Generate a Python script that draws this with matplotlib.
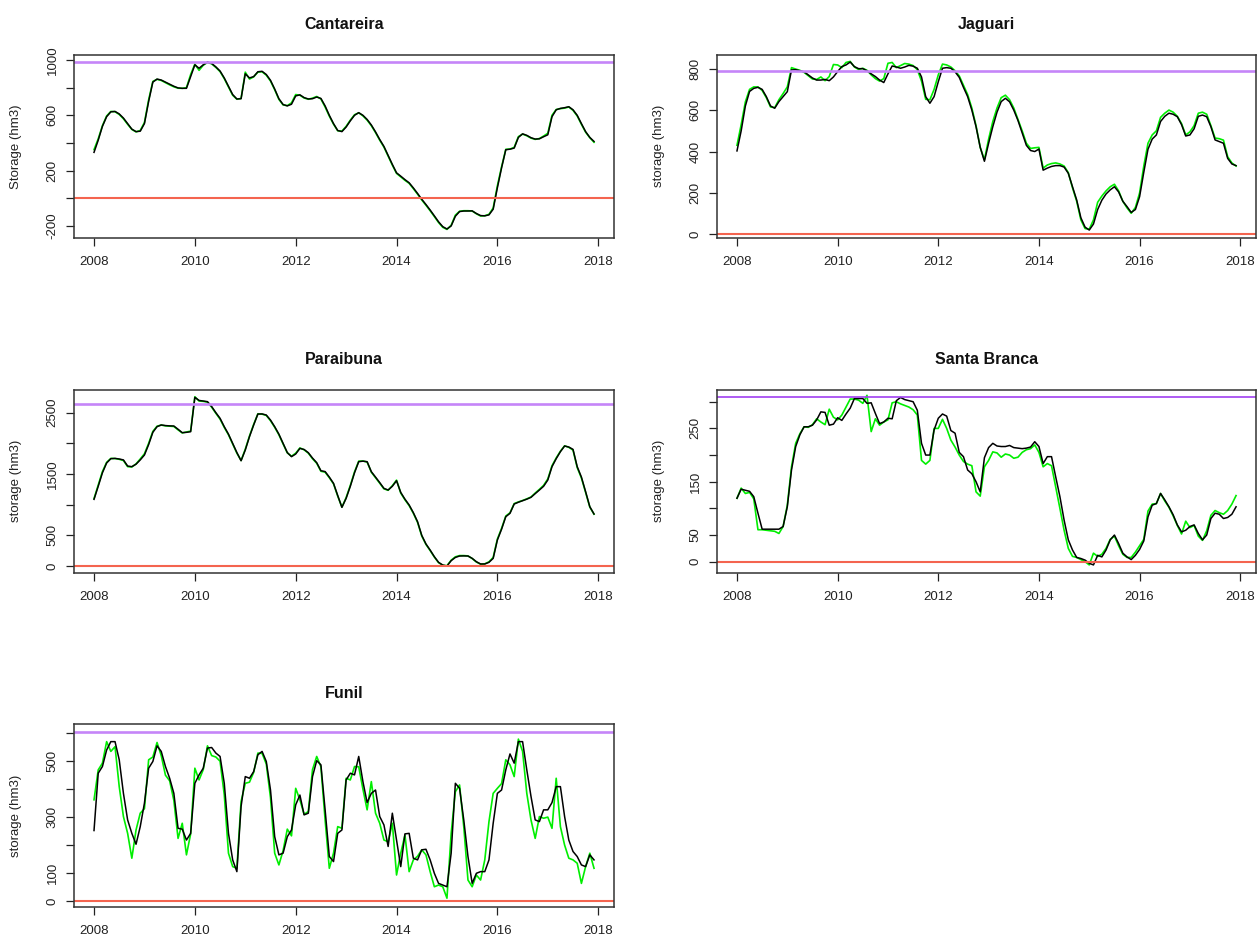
import numpy as np
import matplotlib
matplotlib.use("Agg")
import matplotlib.pyplot as plt

plt.rcParams['font.family'] = ['Liberation Sans', 'DejaVu Sans']

# monthly time axis, Jan 2008 .. Dec 2017
years = 2008 + np.arange(120) / 12.0

reservoirs = ["Cantareira", "Jaguari", "Paraibuna", "Santa Branca", "Funil"]
ylabels = ["Storage (hm3)", "storage (hm3)", "storage (hm3)", "storage (hm3)", "storage (hm3)"]

# observed (black) and simulated (green) storage, hm3
cant_obs = [332, 420, 520, 590, 625, 628, 610, 580, 540, 500, 482, 485,
            540, 700, 840, 862, 855, 840, 825, 810, 798, 795, 795, 880,
            965, 940, 965, 985, 975, 950, 920, 870, 810, 750, 718, 720,
            900, 870, 880, 915, 918, 895, 853, 790, 720, 678, 668, 680,
            740, 748, 728, 718, 720, 732, 722, 668, 600, 540, 490, 482,
            515, 560, 600, 619, 600, 570, 530, 480, 425, 375, 310, 245,
            184, 160, 135, 112, 75, 35, -7, -45, -85, -127, -170, -205,
            -222, -200, -130, -96, -92, -92, -91, -110, -125, -127, -120, -79,
            76, 220, 351, 355, 363, 440, 466, 455, 438, 428, 430, 445,
            459, 590, 640, 650, 655, 662, 640, 600, 540, 482, 440, 411]
cant_sim = [352, 430, 525, 595, 628, 626, 606, 575, 535, 498, 480, 490,
            548, 712, 845, 860, 852, 836, 820, 806, 796, 795, 800, 895,
            970, 925, 962, 982, 972, 946, 916, 865, 805, 745, 716, 722,
            912, 862, 878, 912, 915, 890, 848, 785, 715, 675, 670, 690,
            750, 745, 725, 716, 724, 736, 718, 660, 594, 536, 488, 486,
            520, 565, 604, 618, 596, 565, 525, 475, 420, 370, 305, 240,
            180, 155, 130, 108, 70, 30, -12, -50, -90, -132, -175, -210,
            -225, -195, -122, -94, -90, -90, -92, -112, -128, -126, -116, -70,
            90, 228, 354, 356, 368, 446, 464, 452, 435, 426, 432, 450,
            470, 600, 642, 648, 652, 660, 636, 595, 535, 478, 438, 405]

jag_obs = [403, 500, 620, 690, 705, 710, 700, 665, 620, 609, 641, 665,
           689, 794, 795, 790, 785, 770, 755, 745, 745, 748, 742, 760,
           786, 810, 818, 832, 810, 800, 800, 790, 775, 762, 745, 733,
           775, 813, 808, 802, 808, 816, 812, 802, 760, 665, 633, 665,
           737, 802, 805, 802, 785, 758, 710, 665, 600, 520, 420, 353,
           440, 520, 590, 641, 657, 640, 600, 550, 490, 430, 405, 400,
           412, 310, 320, 328, 332, 332, 325, 295, 230, 166, 80, 35,
           21, 50, 120, 165, 195, 215, 230, 205, 160, 134, 106, 120,
           182, 300, 411, 460, 480, 545, 570, 585, 580, 568, 530, 475,
           480, 510, 570, 576, 568, 520, 456, 448, 440, 367, 340, 332]
jag_sim = [430, 530, 640, 700, 712, 712, 695, 660, 615, 612, 650, 680,
           712, 805, 798, 792, 782, 766, 750, 748, 760, 742, 762, 820,
           818, 805, 830, 835, 808, 796, 802, 792, 770, 752, 740, 752,
           826, 830, 805, 815, 825, 822, 815, 795, 740, 652, 650, 700,
           770, 822, 818, 808, 790, 765, 720, 675, 610, 525, 420, 360,
           460, 545, 610, 660, 672, 650, 610, 555, 500, 440, 415, 418,
           420, 320, 335, 342, 345, 340, 330, 298, 225, 160, 70, 28,
           25, 70, 155, 185, 210, 230, 242, 210, 160, 128, 102, 130,
           200, 330, 440, 480, 500, 565, 585, 600, 590, 570, 535, 480,
           495, 525, 585, 590, 580, 525, 465, 462, 455, 375, 345, 330]

para_obs = [1087, 1300, 1520, 1680, 1750, 1755, 1745, 1730, 1630, 1620, 1660, 1730,
            1810, 1980, 2180, 2272, 2300, 2290, 2285, 2283, 2230, 2174, 2180, 2190,
            2750, 2700, 2690, 2680, 2600, 2500, 2408, 2272, 2150, 2000, 1850, 1717,
            1891, 2109, 2300, 2478, 2480, 2462, 2380, 2272, 2150, 2000, 1850, 1783,
            1826, 1918, 1900, 1848, 1760, 1685, 1554, 1540, 1450, 1348, 1150, 957,
            1103, 1300, 1520, 1701, 1710, 1701, 1538, 1450, 1360, 1266, 1239, 1300,
            1391, 1200, 1090, 995, 870, 723, 500, 360, 260, 152, 60, 16,
            0, 87, 140, 163, 165, 163, 125, 70, 33, 33, 60, 125,
            424, 600, 804, 859, 1011, 1040, 1065, 1090, 1120, 1180, 1239, 1300,
            1402, 1620, 1750, 1864, 1957, 1940, 1902, 1620, 1450, 1212, 967, 848]
para_sim = [1100, 1320, 1540, 1690, 1755, 1752, 1740, 1720, 1620, 1615, 1665, 1745,
            1830, 2000, 2195, 2280, 2298, 2285, 2280, 2275, 2220, 2170, 2185, 2200,
            2760, 2690, 2685, 2672, 2590, 2490, 2395, 2260, 2140, 1990, 1840, 1720,
            1905, 2120, 2310, 2482, 2476, 2455, 2370, 2262, 2140, 1990, 1845, 1790,
            1840, 1925, 1895, 1840, 1750, 1675, 1545, 1530, 1440, 1340, 1140, 960,
            1115, 1315, 1535, 1710, 1712, 1695, 1530, 1440, 1350, 1258, 1235, 1310,
            1400, 1190, 1080, 985, 860, 712, 490, 352, 252, 146, 55, 12,
            5, 95, 150, 170, 170, 165, 122, 65, 30, 36, 68, 140,
            440, 615, 815, 868, 1018, 1045, 1068, 1095, 1125, 1190, 1250, 1315,
            1420, 1635, 1762, 1872, 1960, 1935, 1890, 1605, 1435, 1200, 960, 845]

sb_obs = [119, 136, 134, 132, 122, 91, 61, 61, 61, 61, 61, 66,
          103, 172, 216, 238, 253, 253, 256, 266, 281, 280, 256, 258,
          270, 265, 277, 288, 306, 306, 306, 297, 298, 278, 259, 262,
          269, 268, 302, 308, 304, 302, 300, 284, 222, 200, 200, 247,
          269, 277, 273, 246, 241, 205, 197, 172, 165, 150, 131, 195,
          214, 222, 217, 216, 216, 218, 214, 213, 212, 213, 215, 225,
          216, 184, 197, 197, 159, 122, 78, 41, 22, 8, 6, 3,
          -3, -6, 12, 9, 22, 41, 50, 34, 16, 9, 4, 12,
          23, 39, 84, 106, 109, 128, 116, 103, 88, 69, 56, 59,
          66, 69, 53, 41, 50, 81, 91, 89, 81, 83, 89, 103]
sb_sim = [119, 138, 128, 130, 118, 60, 60, 59, 58, 57, 53, 66,
          106, 178, 222, 240, 253, 252, 257, 268, 262, 257, 286, 271,
          266, 275, 290, 305, 305, 303, 297, 312, 244, 268, 256, 262,
          266, 298, 300, 296, 293, 290, 285, 275, 190, 183, 190, 250,
          250, 267, 250, 228, 215, 200, 188, 183, 180, 131, 123, 178,
          190, 206, 204, 196, 202, 200, 194, 196, 205, 210, 212, 219,
          205, 178, 184, 180, 140, 100, 59, 25, 10, 8, 4, 0,
          -6, 16, 10, 14, 25, 42, 48, 30, 14, 8, 8, 18,
          30, 42, 95, 108, 109, 128, 114, 102, 86, 68, 52, 76,
          64, 68, 48, 40, 58, 87, 96, 92, 89, 96, 108, 124]

fun_obs = [252, 457, 481, 540, 570, 570, 505, 385, 290, 242, 203, 266,
           350, 475, 499, 555, 535, 481, 439, 385, 260, 257, 218, 242,
           421, 451, 475, 547, 549, 529, 517, 421, 242, 147, 105, 338,
           445, 439, 463, 523, 535, 499, 397, 230, 165, 171, 230, 254,
           344, 379, 308, 314, 445, 502, 487, 326, 159, 141, 242, 254,
           433, 457, 451, 517, 427, 352, 385, 397, 302, 272, 195, 314,
           218, 123, 240, 242, 153, 147, 183, 185, 147, 99, 63, 57,
           51, 171, 421, 403, 290, 159, 63, 99, 105, 105, 147, 278,
           385, 397, 469, 526, 493, 570, 570, 469, 374, 290, 284, 326,
           326, 352, 409, 409, 302, 218, 177, 159, 129, 123, 165, 147]
fun_sim = [362, 469, 493, 570, 535, 552, 409, 302, 242, 153, 254, 314,
           330, 505, 515, 567, 520, 450, 430, 360, 224, 278, 165, 240,
           475, 433, 470, 555, 520, 515, 500, 380, 171, 123, 117, 356,
           421, 425, 460, 529, 528, 490, 370, 171, 129, 180, 257, 233,
           403, 362, 310, 320, 470, 517, 480, 290, 117, 171, 266, 260,
           439, 433, 481, 480, 400, 326, 427, 314, 278, 218, 212, 278,
           93, 171, 236, 105, 147, 160, 183, 165, 105, 51, 57, 51,
           10, 242, 391, 415, 266, 75, 51, 93, 75, 147, 284, 385,
           403, 420, 505, 487, 445, 579, 535, 385, 290, 224, 302, 296,
           300, 260, 439, 266, 200, 153, 147, 135, 63, 123, 171, 117]

observed = [cant_obs, jag_obs, para_obs, sb_obs, fun_obs]
simulated = [cant_sim, jag_sim, para_sim, sb_sim, fun_sim]

# capacity (purple) and dead storage (red) levels
max_level = [988, 790, 2635, 308, 605]
min_level = [0, 0, 0, 0, 0]

yticks = [np.arange(-200, 1001, 200), np.arange(0, 801, 200), np.arange(0, 2501, 500),
          np.arange(0, 301, 50), np.arange(0, 601, 100)]
ytick_labels = [["-200", "", "200", "", "600", "", "1000"],
                ["0", "200", "400", "600", "800"],
                ["0", "500", "", "1500", "", "2500"],
                ["0", "50", "", "150", "", "250", ""],
                ["0", "100", "", "300", "", "500", ""]]
ylims = [(-285, 1036), (-16, 866), (-109, 2870), (-20.6, 322), (-21.5, 632)]
xticks = [2008, 2010, 2012, 2014, 2016, 2018]

fig = plt.figure(figsize=(12.58, 9.39), dpi=100)
W, H = 1258.0, 939.0
# axes boxes in pixels: left, top, right, bottom
boxes = [(74, 55, 614, 237.7), (717, 55, 1256, 237.7),
         (74, 390, 614, 572.7), (717, 390, 1256, 572.7),
         (74, 724.3, 614, 907)]

for i, name in enumerate(reservoirs):
    l, t, r, b = boxes[i]
    ax = fig.add_axes([l / W, 1 - b / H, (r - l) / W, (b - t) / H])
    ax.plot(years, simulated[i], color="#00ee00", lw=1.2)
    ax.plot(years, observed[i], color="black", lw=1.1)
    purple = "#a040f0" if name == "Santa Branca" else "#c585f8"
    ax.axhline(max_level[i], color=purple, lw=1.2 if name == "Santa Branca" else 1.9)
    ax.axhline(min_level[i], color="#f4644f", lw=1.5)

    ax.set_xlim(2007.603, 2018.313)
    ax.set_ylim(*ylims[i])
    ax.set_xticks(xticks)
    ax.set_xticklabels([str(x) for x in xticks])
    ax.set_yticks(yticks[i])
    ax.set_yticklabels(ytick_labels[i], rotation=90, va="center")
    ax.tick_params(axis="both", direction="out", length=6, width=0.9,
                   colors="#222222", labelsize=9.5, labelcolor="#222222")
    ax.tick_params(axis="x", pad=7)
    ax.tick_params(axis="y", pad=5)
    for sp in ax.spines.values():
        sp.set_color("#333333")
        sp.set_linewidth(1.1)

    ax.set_title(name, fontsize=11.5, fontweight="bold", pad=19, color="#111111")
    ax.set_ylabel(ylabels[i], fontsize=9.5, color="#222222", va="center")
    ax.yaxis.set_label_coords(-(74 - 16) / 540.0, 0.5)

fig.savefig("out.png", dpi=100)
